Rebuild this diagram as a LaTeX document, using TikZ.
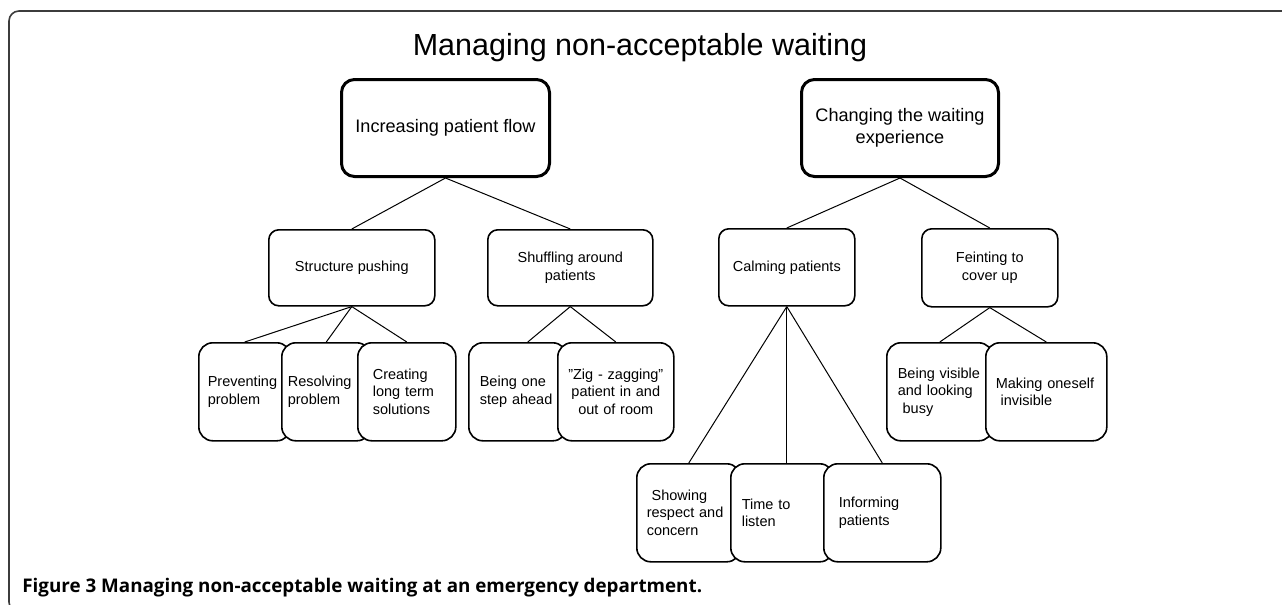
\documentclass[tikz,border=0pt]{standalone}
\usepackage{fontspec}
\setmainfont{Liberation Sans}
\newfontfamily\capfont{Open Sans}
\usepackage{tikz}
\definecolor{fr}{RGB}{60, 60, 60}
\usetikzlibrary{positioning}

\begin{document}
\begin{tikzpicture}
			[x=0.5pt, y=-0.5pt, every node/.style={inner sep=0pt},
			top/.style={rectangle, rounded corners=6.5pt, draw=black, line width=1.5pt, fill=white, align=center, anchor=north west, minimum height=48.5pt, font=\fontsize{9.05}{11}\selectfont},
			mid/.style={rectangle, rounded corners=5pt, draw=black, line width=0.8pt, fill=white, align=center, anchor=north west, minimum height=38pt, font=\fontsize{7.25}{9}\selectfont},
			leaf/.style={rectangle, rounded corners=7pt, draw=black, line width=0.8pt, fill=white, align=left, anchor=north west, minimum height=49pt, font=\fontsize{7.25}{8.75}\selectfont},
			edge/.style={line width=0.5pt, color=black}]
			\useasboundingbox (0, 0) rectangle (1282, 605);
			\draw [rounded corners=5pt, line width=0.8pt, color=fr] (30, 612) -- (9, 612) -- (9, 11) -- (1300, 11);
			\node (0) [anchor=base, font=\fontsize{15.25}{18}\selectfont] at (640, 55) {Managing non-acceptable waiting};
			\node (1) [top, minimum width=104pt] at (340, 78) {Increasing patient flow};
			\node (2) [top, minimum width=98.5pt] at (800, 78) {Changing the waiting\\experience};
			\node (3) [mid, minimum width=83pt] at (268, 229) {Structure pushing};
			\node (4) [mid, minimum width=82.5pt] at (487, 229) {Shuffling around\\patients};
			\node (5) [mid, minimum width=68pt, minimum height=38.5pt] at (718, 228) {Calming patients};
			\node (6) [mid, minimum width=68pt, minimum height=39pt] at (921, 228) {Feinting to\\cover up};
			\node (7) [leaf, text width=37pt, inner xsep=4.5pt] at (198, 342) {Preventing\\problem};
			\node (8) [leaf, text width=38.5pt, inner xsep=3pt] at (281, 342) {Resolving\\problem};
			\node (9) [leaf, text width=34pt, inner xsep=7.5pt] at (357, 342) {Creating\\long term\\solutions};
			\node (10) [leaf, text width=38pt, inner xsep=5.5pt] at (468, 342) {Being one\\step ahead};
			\node (11) [leaf, align=center, text width=48pt, inner xsep=5pt] at (557, 342) {”Zig - zagging”\\patient in and\\out of room};
			\node (12) [leaf, text width=42pt, inner xsep=5pt] at (636, 463) {\ Showing\\respect and\\concern};
			\node (13) [leaf, text width=40.5pt, inner xsep=5.5pt] at (730, 463) {Time to\\listen};
			\node (14) [leaf, text width=43.5pt, inner xsep=7.5pt] at (823, 463) {Informing\\patients};
			\node (15) [leaf, text width=42pt, inner xsep=5.5pt] at (886, 342) {Being visible\\and looking\\\ busy};
			\node (16) [leaf, text width=50.5pt, inner xsep=5pt] at (985, 342) {Making oneself\\\ invisible};
			\draw [edge] (1.south) to (3.north);
			\draw [edge] (1.south) to (4.north);
			\draw [edge] (2.south) to (5.north);
			\draw [edge] (2.south) to (6.north);
			\draw [edge] (3.south) to (7.north);
			\draw [edge] (3.south) to (8.north);
			\draw [edge] (3.south) to (9.north);
			\draw [edge] (4.south) to ([xshift=5pt]10.north);
			\draw [edge] (4.south) to (11.north);
			\draw [edge] (5.south) to (12.north);
			\draw [edge] (5.south) to (5.south |- 13.north);
			\draw [edge] (5.south) to (14.north);
			\draw [edge] (6.south) to (15.north);
			\draw [edge] (6.south) to (16.north);
			\node (17) [anchor=base west, font=\capfont\bfseries\fontsize{9.4}{11}\selectfont] at (22, 592) {Figure 3 Managing non-acceptable waiting at an emergency department.};
	\end{tikzpicture}
\end{document}
